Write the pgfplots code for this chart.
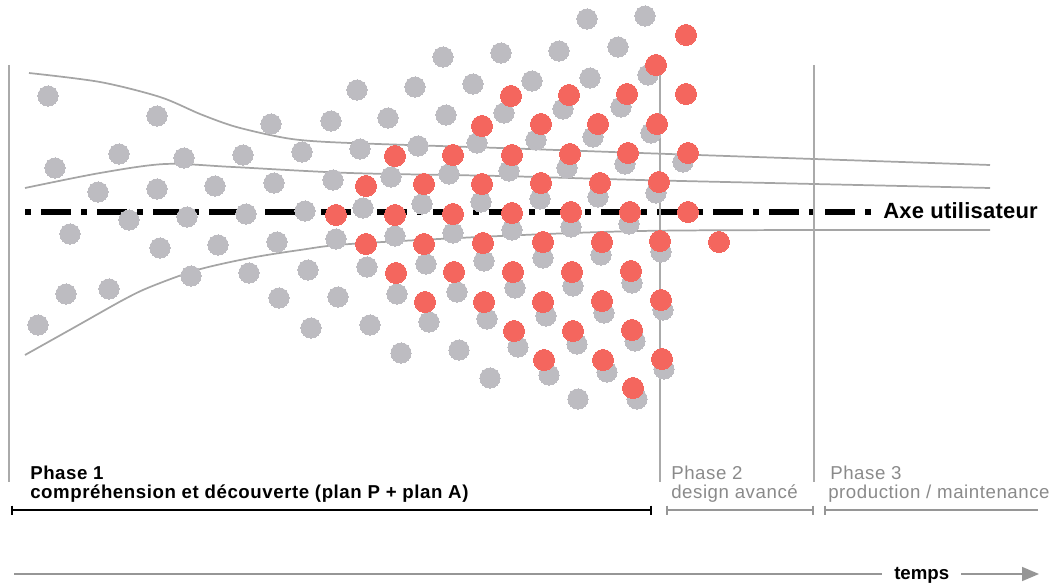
\documentclass[border=0pt]{standalone}
\usepackage{fontspec}
\setmainfont{Liberation Sans}
\usepackage{pgfplots}
\pgfplotsset{compat=1.18}
\usepackage{pgfplotstable}
\usetikzlibrary{arrows.meta}
\definecolor{dotgray}{RGB}{189,188,193}
\definecolor{dotred}{RGB}{244,102,94}
\definecolor{linegray}{RGB}{165,165,165}
\definecolor{vgray}{RGB}{170,170,170}
\definecolor{txtgray}{RGB}{138,138,138}
\definecolor{bargray}{RGB}{150,150,150}

\pgfplotstableread{
x y
48 96
55 168
70 234
38 325
66 294
98 192
109 289
119 154
129 220
157 116
157 189
160 248
184 158
187 217
191 276
215 186
218 245
243 155
246 214
249 273
271 124
274 183
277 242
279 298
302 152
305 211
308 270
311 328
331 121
333 180
336 239
338 297
587 19
645 16
443 57
501 53
559 51
618 47
357 90
415 87
473 84
532 81
590 78
648 75
388 118
446 115
504 113
563 109
621 107
651 133
360 149
418 146
477 143
536 140
593 137
683 162
625 164
567 168
509 171
449 174
391 177
656 193
598 197
540 199
481 202
422 204
363 208
395 236
453 233
512 230
571 227
629 224
367 267
426 264
484 261
543 258
601 255
661 252
397 294
457 292
515 288
573 286
632 283
370 325
429 322
487 319
546 316
604 313
663 310
401 353
459 350
518 347
577 344
635 341
490 378
549 375
607 372
664 369
578 399
637 399
}\graydots

\pgfplotstableread{
x y
336 215
366 186
366 244
395 156
395 215
396 273
424 184
424 244
425 302
453 155
453 214
454 272
482 126
482 184
483 243
484 302
511 96
512 155
512 213
513 272
514 331
541 124
541 183
543 242
543 302
544 360
569 95
570 154
571 212
572 272
573 331
598 124
600 183
602 242
602 301
603 360
627 94
628 153
630 212
631 271
632 330
633 388
656 65
657 124
659 182
660 241
661 300
662 359
686 35
686 94
688 153
688 212
719 242
}\reddots

\begin{document}
\begin{tikzpicture}
\begin{axis}[scale only axis, width=789pt, height=438pt,
  xmin=0, xmax=1052, ymin=0, ymax=584, y dir=reverse,
  hide axis, clip=false]
\coordinate (BL) at (rel axis cs:0,0);
\coordinate (TR) at (rel axis cs:1,1);
% user axis
\addplot[black, line width=3.8pt, line cap=butt, dash pattern=on 4.5pt off 7.5pt on 22.5pt off 7.5pt]
  coordinates {(25,212) (871,212)};
% gray dots
\addplot[only marks, mark=*, mark size=7.6pt, color=dotgray, mark options={line width=0pt}] table {\graydots};
% curves
\addplot[linegray, line width=1.3pt, smooth, tension=0.5] coordinates {
 (29,73) (100,82) (160,97) (200,114) (233,126) (270,135) (300,140) (350,143) (500,148) (640,153) (814,159) (990,165)};
\addplot[linegray, line width=1.3pt, smooth, tension=0.5] coordinates {
 (25,188) (100,173) (165,164) (233,167) (350,173) (500,176) (640,180) (814,184) (990,188)};
\addplot[linegray, line width=1.3pt, smooth, tension=0.5] coordinates {
 (25,355) (75,327) (123,300) (150,287) (197,270) (250,258) (300,250) (350,244) (500,236) (640,231) (814,230) (990,230)};
% vertical phase lines
\addplot[vgray, line width=0.8pt] coordinates {(9,65) (9,482)};
\addplot[vgray, line width=0.8pt] coordinates {(660,65) (660,482)};
\addplot[vgray, line width=0.8pt] coordinates {(814,65) (814,482)};
% red dots
\addplot[only marks, mark=*, mark size=7.9pt, color=dotred, mark options={line width=0pt}] table {\reddots};
% phase bars
\addplot[black, line width=1pt] coordinates {(12,510) (651,510)};
\addplot[black, line width=2.2pt] coordinates {(12,505.5) (12,514.5)};
\addplot[black, line width=2.2pt] coordinates {(651,505.5) (651,514.5)};
\addplot[bargray, line width=1pt] coordinates {(667,510) (813,510)};
\addplot[bargray, line width=2.2pt] coordinates {(667,505.5) (667,514.5)};
\addplot[bargray, line width=2.2pt] coordinates {(813,505.5) (813,514.5)};
\addplot[bargray, line width=1pt] coordinates {(825,510) (1038,510)};
\addplot[bargray, line width=2.2pt] coordinates {(825,505.5) (825,514.5)};
% time arrow
\addplot[bargray, line width=1.2pt] coordinates {(14,574) (882,574)};
\addplot[bargray, line width=1.2pt, -{Triangle[length=12.75pt, width=10.5pt]}] coordinates {(961,574) (1039,574)};
% texts
\node[anchor=base west, inner sep=0pt, font=\fontsize{14}{16}\selectfont\bfseries\addfontfeatures{LetterSpace=3}] at (axis cs:30,479) {Phase 1};
\node[anchor=base west, inner sep=0pt, font=\fontsize{14}{16}\selectfont\bfseries\addfontfeatures{LetterSpace=3}] at (axis cs:30,498) {compréhension et découverte (plan P + plan A)};
\node[anchor=base west, inner sep=0pt, text=txtgray, font=\fontsize{14}{16}\selectfont\addfontfeatures{LetterSpace=3}] at (axis cs:671,479) {Phase 2};
\node[anchor=base west, inner sep=0pt, text=txtgray, font=\fontsize{14}{16}\selectfont\addfontfeatures{LetterSpace=3}] at (axis cs:671,498) {design avancé};
\node[anchor=base west, inner sep=0pt, text=txtgray, font=\fontsize{14}{16}\selectfont\addfontfeatures{LetterSpace=3}] at (axis cs:830,479) {Phase 3};
\node[anchor=base west, inner sep=0pt, text=txtgray, font=\fontsize{14}{16}\selectfont\addfontfeatures{LetterSpace=3}] at (axis cs:828,498) {production / maintenance};
\node[anchor=base west, inner sep=0pt, font=\fontsize{16.5}{18}\selectfont\bfseries\addfontfeatures{LetterSpace=1}] at (axis cs:883,219) {Axe utilisateur};
\node[anchor=base west, inner sep=0pt, font=\fontsize{14}{16}\selectfont\bfseries] at (axis cs:894,579) {temps};
\end{axis}
\pgfresetboundingbox
\path[use as bounding box] (BL) rectangle (TR);
\end{tikzpicture}
\end{document}
